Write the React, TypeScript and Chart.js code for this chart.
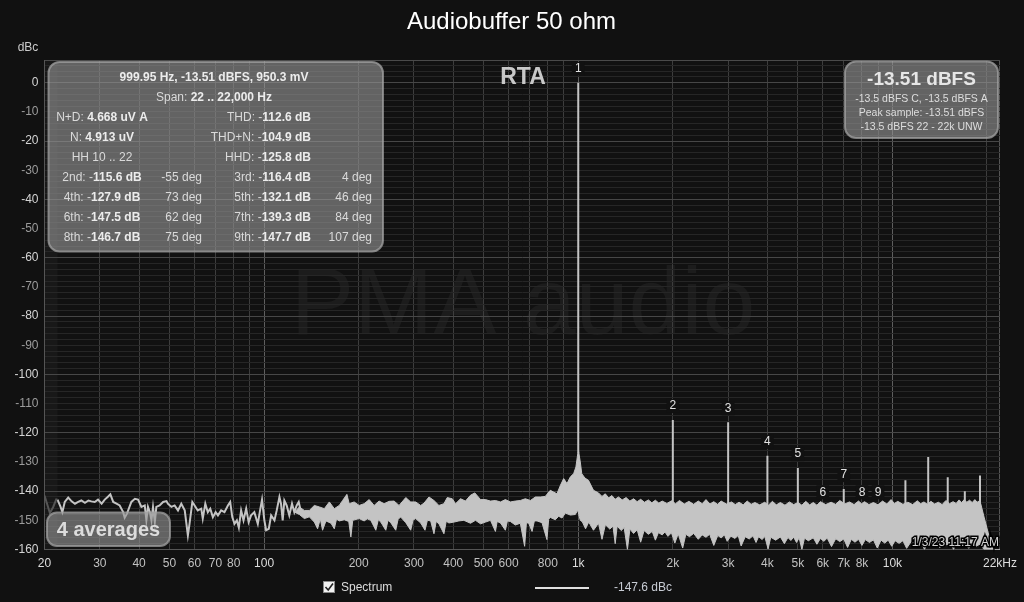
import React, { useEffect, useRef } from 'react';
import { Chart, registerables } from 'chart.js';

Chart.register(...registerables);

const FONT = '"Liberation Sans", Arial, Helvetica, sans-serif';
const TITLE = 'Audiobuffer 50 ohm';
const Y_UNIT = 'dBc';

// ---- axes ----
const X_MIN = 20;
const X_MAX = 22000;
const X_GRID = [20, 30, 40, 50, 60, 70, 80, 90, 100, 200, 300, 400, 500, 600, 700, 800, 900, 1000, 2000, 3000, 4000, 5000, 6000, 7000, 8000, 9000, 10000, 20000, 22000];
const X_LABEL_VALUES = [20, 30, 40, 50, 60, 70, 80, 100, 200, 300, 400, 500, 600, 800, 1000, 2000, 3000, 4000, 5000, 6000, 7000, 8000, 10000, 22000];
const X_LABEL_TEXT = ['20', '30', '40', '50', '60', '70', '80', '100', '200', '300', '400', '500', '600', '800', '1k', '2k', '3k', '4k', '5k', '6k', '7k', '8k', '10k', '22kHz'];
const Y_MIN = -160;
const Y_MAX = 7.7;
const Y_MINOR_STEP = 2;
const Y_LABEL_STEP = 10;
const Y_MAJOR_STEP = 20;

// ---- spectrum (Hz, dBc) ----
const DIM_FREQ = [20, 20.4, 20.8, 21.3, 21.8, 22.0];
const DIM_DB = [-141.5, -144.5, -147.5, -145.5, -142.8, -142.9];

const LOW_FREQ = [22.0, 22.5, 22.8, 23.2, 23.8, 24.4, 25.0, 25.6, 26.2, 26.9, 27.6, 28.2, 28.9, 29.6, 30.4, 31.1, 31.9, 32.4, 33.1, 33.9, 34.7, 35.6, 36.0, 36.6, 37.8, 38.8, 39.7, 40.7, 41.7, 42.2, 42.7, 43.3, 43.8, 44.3, 44.9, 45.4, 46.5, 47.7, 48.9, 49.4, 50.7, 51.9, 53.2, 54.5, 55.9, 57.2, 57.9, 59.1, 60.1, 61.5, 63.1, 63.8, 65.0, 66.2, 67.4, 68.7, 70.1, 71.3, 73.0, 74.8, 76.7, 78.0, 79.2, 80.5, 81.9, 83.1, 84.5, 86.0, 87.7, 89.3, 90.9, 93.1, 95.5, 97.1, 98.5, 100.2, 101.5, 103.5, 105.3, 107.9, 109.7, 111.9, 113.2, 114.6, 116.0, 118.0, 120.3, 122.7, 124.8, 127.0, 128.9, 131.1];
const LOW_DB = [-142.9, -145.4, -147.2, -143.7, -142.2, -143.5, -144.3, -143.7, -143.2, -144.0, -143.2, -143.5, -143.7, -142.9, -144.3, -142.9, -141.8, -141.1, -143.7, -144.3, -144.9, -147.2, -149.1, -147.7, -143.7, -142.6, -142.9, -145.4, -144.9, -150.0, -145.4, -147.2, -150.0, -145.4, -150.6, -145.4, -144.9, -143.7, -143.4, -144.3, -145.4, -144.9, -146.6, -144.3, -146.6, -155.2, -151.2, -143.7, -144.9, -146.6, -146.0, -149.4, -144.3, -147.2, -146.0, -148.9, -147.2, -148.3, -146.6, -147.2, -144.9, -143.7, -148.9, -151.2, -150.0, -152.5, -146.6, -150.0, -146.0, -150.6, -148.3, -147.2, -151.2, -146.6, -142.9, -150.0, -153.4, -152.9, -148.3, -150.0, -146.6, -142.0, -144.3, -150.0, -143.2, -144.9, -148.3, -144.3, -147.2, -144.9, -143.7, -147.2];

const UPPER_FREQ = [125, 129.5, 134.3, 139.3, 144.5, 149.9, 155.5, 161.3, 167.3, 173.5, 177.8, 183.5, 186.6, 193.5, 200.7, 208.2, 216, 224, 232.3, 241, 250, 259.3, 268.9, 282.5, 292.9, 303.8, 315.1, 322.9, 334.9, 347.3, 360.2, 373.6, 382.8, 397.1, 406.9, 422, 437.5, 453.9, 468.6, 488.7, 506.7, 525.5, 545, 565.4, 586.2, 608, 630.6, 654, 678.5, 704, 730.3, 757.4, 785.3, 814.8, 834.4, 855.5, 877.4, 898.7, 920.9, 943.8, 966.7, 983, 997, 1003, 1015, 1026, 1050, 1078, 1118,
  1160, 1190, 1219, 1250, 1280, 1310, 1343, 1380, 1420, 1460, 1500, 1540, 1580, 1625, 1672, 1715, 1760, 1805, 1850, 1915, 1983, 2040, 2100, 2175, 2250, 2330, 2410, 2480, 2550, 2625, 2700, 2775, 2850, 2960, 3075, 3160, 3250, 3350, 3450, 3550, 3650, 3780, 3923, 4030, 4150, 4270, 4400, 4550, 4700, 4850, 5003, 5150, 5300, 5450, 5600, 5750, 5900, 6130, 6380, 6590, 6800, 7050, 7300, 7550, 7800, 7975, 8150, 8420, 8700, 9000, 9300, 9600, 9900, 10150, 10400, 10800, 11200, 11600, 12000, 12300, 12600, 12930, 13260, 13630, 14000, 14400, 14800, 15200, 15600, 15950, 16300, 16600, 16930, 17250, 17600, 17950, 18300, 18600, 18890, 19100, 19580, 20330, 21100, 22000];
const UPPER_DB = [-147.2, -145.4, -146.6, -146.6, -144.9, -145.4, -146.0, -143.7, -146.0, -144.9, -143.2, -141.1, -144.3, -143.7, -144.9, -144.3, -142.9, -144.9, -143.4, -144.3, -143.5, -143.4, -144.9, -142.2, -143.7, -143.7, -144.9, -144.1, -142.0, -143.2, -144.9, -144.3, -142.2, -142.6, -144.3, -142.6, -143.4, -141.4, -140.6, -142.9, -142.9, -143.4, -143.2, -143.7, -142.9, -143.7, -143.4, -143.2, -142.6, -143.2, -142.0, -142.0, -141.8, -139.7, -140.3, -140.9, -138.0, -135.7, -137.4, -135.1, -134.0, -131.7, -127.0, -126.5, -130.0, -134.0, -135.5, -136.3, -139.7,
  -140.6, -141.8, -140.9, -142.3, -141.5, -142.8, -142.0, -143.0, -142.2, -143.4, -142.6, -143.6, -142.8, -143.8, -143.0, -144.0, -143.1, -144.1, -143.4, -144.2, -143.3, -144.3, -143.2, -144.4, -143.5, -144.5, -143.4, -144.3, -142.9, -144.4, -143.6, -144.5, -143.4, -144.4, -143.7, -144.6, -143.8, -144.7, -143.4, -144.5, -143.9, -144.7, -143.8, -144.8, -143.5, -144.7, -143.9, -144.8, -143.7, -144.6, -143.9, -144.8, -143.5, -144.7, -143.9, -144.8, -143.6, -144.6, -143.8, -144.5, -143.2, -144.4, -143.7, -144.6, -143.4, -144.3, -143.6, -144.6, -143.9, -144.7, -143.4, -144.4, -142.9, -144.2, -143.5, -144.5, -143.8, -144.6, -143.3, -144.3, -143.7, -144.5, -143.5, -144.4, -143.8, -144.6, -143.2, -144.3, -143.6, -144.2, -143.0, -143.9, -142.9, -143.8, -143.1, -143.9, -142.9, -143.8, -143.4, -144.3, -148.9, -155.7, -160, -160];

const LOWER_FREQ = [125, 129.5, 134.3, 139.3, 144.5, 148, 151, 153.5, 157.4, 163.3, 167.3, 170, 173.5, 180, 186, 188.9, 191.5, 200.7, 208.2, 213, 218.6, 226.8, 231, 235.2, 244, 248, 253, 262.5, 267, 272.2, 282.5, 292.9, 298, 303.8, 315.1, 325.2, 331, 339, 347.3, 353, 360.2, 373.6, 380, 387.5, 402, 416.9, 432.4, 453.9, 470.9, 488.7, 506.7, 525.5, 545, 552, 565.4, 586.2, 595, 608, 630.6, 654, 675, 684, 695.5, 712.8, 725, 739.2, 766.6, 795, 805, 814.8, 845.3, 866.4, 887.6, 909.9, 943.8, 978.6, 997,
  1003, 1015, 1030, 1055, 1080, 1118, 1160, 1190, 1220, 1260, 1290, 1311, 1330, 1370, 1400, 1434, 1460, 1500, 1540, 1580, 1620, 1672, 1720, 1760, 1800, 1850, 1888, 1930, 1980, 2030, 2080, 2150, 2200, 2260, 2330, 2410, 2480, 2550, 2620, 2700, 2780, 2850, 2920, 2979, 3060, 3150, 3230, 3300, 3400, 3500, 3600, 3680, 3750, 3850, 3923, 4020, 4100, 4250, 4400, 4530, 4650, 4750, 4850, 4950, 5050, 5150, 5250, 5400, 5600, 5750, 5900, 6050, 6200, 6400, 6600, 6800, 7000, 7200, 7400, 7600, 7800, 8000, 8200, 8450, 8700, 8950, 9200, 9450, 9700, 9950, 10200, 10500, 10800, 11100, 11500, 11900, 12300, 12650, 13000, 13400, 13800, 14150, 14500, 14900, 15300, 15650, 16000, 16500, 17000, 17500, 18000, 18500, 19000, 19580, 21100, 22000];
const LOWER_DB = [-147.2, -148.0, -149.4, -148.8, -150.6, -152.9, -149.5, -153.4, -150.2, -151.0, -152.9, -149.6, -150.2, -149.8, -150.4, -155.7, -150.0, -149.4, -150.2, -149.5, -150.0, -153.4, -149.8, -150.6, -153.4, -150.0, -150.8, -153.4, -149.6, -148.9, -150.8, -153.4, -149.9, -149.4, -150.9, -153.4, -150.0, -150.2, -154.6, -150.4, -151.2, -154.6, -150.3, -150.9, -150.6, -150.2, -150.0, -151.0, -150.0, -151.2, -150.6, -150.0, -153.8, -150.4, -150.9, -153.4, -150.2, -150.4, -151.6, -151.0, -158.9, -150.8, -151.0, -153.8, -150.2, -150.2, -150.8, -156.6, -149.6, -149.0, -149.8, -148.6, -149.2, -147.5, -148.2, -148.0, -146.5,
  -148.0, -150.0, -150.5, -152.9, -150.6, -153.4, -151.0, -156.5, -151.5, -153.0, -152.0, -158.0, -152.0, -153.5, -152.5, -160, -153.0, -154.5, -153.2, -157.5, -153.5, -154.8, -153.8, -156.8, -154.2, -155.0, -154.0, -155.5, -154.3, -157.8, -154.6, -159.5, -154.8, -155.6, -154.5, -156.5, -155.0, -155.8, -154.8, -158.6, -155.2, -156.0, -155.0, -157.2, -155.4, -156.2, -155.2, -158.8, -155.6, -156.4, -155.3, -157.6, -155.6, -156.6, -155.5, -159.8, -155.8, -156.8, -155.7, -158.0, -155.9, -156.9, -155.8, -157.6, -156.0, -160, -156.1, -157.0, -156.0, -158.2, -156.2, -157.2, -156.1, -159.0, -156.3, -157.3, -156.4, -159.3, -156.5, -157.5, -156.5, -158.6, -156.6, -157.6, -156.7, -159.5, -156.8, -157.8, -156.8, -158.9, -157.0, -157.9, -157.0, -159.6, -157.1, -158.1, -157.2, -160, -157.3, -158.2, -157.4, -159.4, -157.5, -158.4, -157.6, -160, -157.6, -158.5, -157.8, -159.6, -157.8, -158.8, -158.2, -160, -160, -160];

// ---- spectral lines ----
const FUND_FREQ = 1000;
const FUND_DB = 0;
const FUND_BASE_DB = -127;
const HARM_ORDER = [2, 3, 4, 5, 6, 7, 8, 9];
const HARM_NAME = ['2nd', '3rd', '4th', '5th', '6th', '7th', '8th', '9th'];
const HARM_DB = [-115.6, -116.4, -127.9, -132.1, -147.5, -139.3, -146.7, -147.7];
const HARM_PHASE = [-55, 4, 73, 46, 62, 84, 75, 107];
const EXTRA_FREQ = [11000, 13000, 15000, 17000, 19000];
const EXTRA_DB = [-136.3, -128.3, -135.2, -140.0, -134.6];
const SPIKE_BASE_DB = -146;

// ---- texts ----
const INFO_HEADER = '999.95 Hz, -13.51 dBFS, 950.3 mV';
const INFO_SPAN_LABEL = 'Span: ';
const INFO_SPAN = '22 .. 22,000 Hz';
const INFO_LEFT = [['N+D: ', '4.668 uV A'], ['N: ', '4.913 uV'], ['HH 10 .. 22', '']];
const INFO_RIGHT = [['THD: -', '112.6 dB'], ['THD+N: -', '104.9 dB'], ['HHD: -', '125.8 dB']];
const LEVEL_MAIN = '-13.51 dBFS';
const LEVEL_LINES = ['-13.5 dBFS C, -13.5 dBFS A', 'Peak sample: -13.51 dBFS', '-13.5 dBFS 22 - 22k UNW'];
const AVERAGES = '4 averages';
const MODE = 'RTA';
const WATERMARK = 'PMA audio';
const TIMESTAMP = '1/3/23 11:17 AM';
const LEGEND_SERIES = 'Spectrum';
const LEGEND_VALUE = '-147.6 dBc';

const TRACE = '#c4c4c4';
const BG = '#111111';

const zip = (f: number[], d: number[]) => f.map((x, i) => ({ x, y: d[i] }));

function spikeData() {
  const pts: { x: number; y: number | null }[] = [];
  pts.push({ x: FUND_FREQ, y: FUND_BASE_DB }, { x: FUND_FREQ, y: FUND_DB }, { x: FUND_FREQ, y: null });
  HARM_ORDER.forEach((n, i) => {
    const f = n * FUND_FREQ;
    pts.push({ x: f, y: SPIKE_BASE_DB }, { x: f, y: HARM_DB[i] }, { x: f, y: null });
  });
  EXTRA_FREQ.forEach((f, i) => {
    pts.push({ x: f, y: SPIKE_BASE_DB }, { x: f, y: EXTRA_DB[i] }, { x: f, y: null });
  });
  return pts;
}

function rr(ctx: CanvasRenderingContext2D, x: number, y: number, w: number, h: number, r: number) {
  ctx.beginPath();
  ctx.moveTo(x + r, y);
  ctx.lineTo(x + w - r, y);
  ctx.arcTo(x + w, y, x + w, y + r, r);
  ctx.lineTo(x + w, y + h - r);
  ctx.arcTo(x + w, y + h, x + w - r, y + h, r);
  ctx.lineTo(x + r, y + h);
  ctx.arcTo(x, y + h, x, y + h - r, r);
  ctx.lineTo(x, y + r);
  ctx.arcTo(x, y, x + r, y, r);
  ctx.closePath();
}

function panel(ctx: CanvasRenderingContext2D, x: number, y: number, w: number, h: number, r: number) {
  rr(ctx, x, y, w, h, r);
  ctx.fillStyle = 'rgba(150,150,150,0.62)';
  ctx.fill();
  ctx.lineWidth = 2;
  ctx.strokeStyle = 'rgba(160,160,160,0.75)';
  ctx.stroke();
}

function parts(ctx: CanvasRenderingContext2D, segs: [string, boolean][], x: number, y: number, align: 'left' | 'center' | 'right', size = 12) {
  const widths = segs.map(([t, b]) => {
    ctx.font = `${b ? 'bold ' : ''}${size}px ${FONT}`;
    return ctx.measureText(t).width;
  });
  const total = widths.reduce((a, b) => a + b, 0);
  let cx = align === 'left' ? x : align === 'center' ? x - total / 2 : x - total;
  ctx.textAlign = 'left';
  ctx.textBaseline = 'middle';
  segs.forEach(([t, b], i) => {
    ctx.font = `${b ? 'bold ' : ''}${size}px ${FONT}`;
    ctx.fillStyle = b ? '#ececec' : '#dadada';
    ctx.fillText(t, cx, y);
    cx += widths[i];
  });
}

const overlay = {
  id: 'overlay',
  beforeDraw(chart: any) {
    const { ctx, chartArea: a, scales } = chart;
    ctx.save();
    ctx.fillStyle = BG;
    ctx.fillRect(0, 0, chart.width, chart.height);
    const x0 = scales.x.getPixelForValue(20);
    const x1 = scales.x.getPixelForValue(22);
    ctx.fillStyle = 'rgba(255,255,255,0.03)';
    ctx.fillRect(x0, a.top, x1 - x0, a.bottom - a.top);
    ctx.font = `95px ${FONT}`;
    ctx.fillStyle = '#1c1c1c';
    ctx.textAlign = 'center';
    ctx.textBaseline = 'alphabetic';
    ctx.fillText(WATERMARK, 523, 334);
    ctx.font = `24px ${FONT}`;
    ctx.fillStyle = '#ffffff';
    ctx.textBaseline = 'middle';
    ctx.fillText(TITLE, 511.5, 22.5);
    ctx.restore();
  },
  afterDatasetsDraw(chart: any) {
    const { ctx, scales } = chart;
    const xs = scales.x, ys = scales.y;
    ctx.save();
    ctx.font = `12px ${FONT}`;
    ctx.textAlign = 'center';
    ctx.textBaseline = 'middle';
    const labels = [{ n: 1, db: FUND_DB }, ...HARM_ORDER.map((n, i) => ({ n, db: HARM_DB[i] }))];
    labels.forEach(({ n, db }) => {
      const px = xs.getPixelForValue(n * FUND_FREQ);
      const py = ys.getPixelForValue(Math.max(db, -145.2)) - 14;
      const t = String(n);
      const w = ctx.measureText(t).width + 6;
      ctx.fillStyle = BG;
      ctx.fillRect(px - w / 2, py - 7, w, 14);
      ctx.fillStyle = '#e2e2e2';
      ctx.fillText(t, px, py);
    });
    ctx.restore();
  },
  afterDraw(chart: any) {
    const { ctx } = chart;
    ctx.save();
    ctx.font = `12px ${FONT}`;
    ctx.fillStyle = '#cccccc';
    ctx.textAlign = 'center';
    ctx.textBaseline = 'middle';
    ctx.fillText(Y_UNIT, 28, 48);

    ctx.font = `bold 23px ${FONT}`;
    ctx.fillStyle = '#c8c8c8';
    ctx.textBaseline = 'alphabetic';
    ctx.fillText(MODE, 523, 84);

    panel(ctx, 48.5, 62, 334.5, 189.5, 11);
    parts(ctx, [[INFO_HEADER, true]], 214, 77.5, 'center');
    parts(ctx, [[INFO_SPAN_LABEL, false], [INFO_SPAN, true]], 214, 97.5, 'center');
    INFO_LEFT.forEach(([a, b], i) => {
      parts(ctx, b ? [[a, false], [b, true]] : [[a, false]], 102, 117.5 + i * 20, 'center');
    });
    INFO_RIGHT.forEach(([a, b], i) => {
      parts(ctx, [[a, false], [b, true]], 311, 117.5 + i * 20, 'right');
    });
    for (let k = 0; k < 4; k++) {
      const y = 177.5 + k * 20;
      const l = 2 * k, r = 2 * k + 1;
      parts(ctx, [[`${HARM_NAME[l]}: -`, false], [`${Math.abs(HARM_DB[l]).toFixed(1)} dB`, true]], 102, y, 'center');
      parts(ctx, [[`${HARM_PHASE[l]} deg`, false]], 202, y, 'right');
      parts(ctx, [[`${HARM_NAME[r]}: -`, false], [`${Math.abs(HARM_DB[r]).toFixed(1)} dB`, true]], 311, y, 'right');
      parts(ctx, [[`${HARM_PHASE[r]} deg`, false]], 372, y, 'right');
    }

    panel(ctx, 845, 61.5, 153, 76.5, 11);
    ctx.textAlign = 'center';
    ctx.textBaseline = 'middle';
    ctx.font = `bold 19px ${FONT}`;
    ctx.fillStyle = '#e6e6e6';
    ctx.fillText(LEVEL_MAIN, 921.5, 80);
    ctx.font = `10.5px ${FONT}`;
    ctx.fillStyle = '#dddddd';
    LEVEL_LINES.forEach((t, i) => ctx.fillText(t, 921.5, 99.5 + i * 14));

    panel(ctx, 47, 512.5, 123, 33.5, 10);
    ctx.font = `bold 20px ${FONT}`;
    ctx.fillStyle = '#dcdcdc';
    ctx.fillText(AVERAGES, 108.5, 530);

    ctx.font = `12px ${FONT}`;
    ctx.textAlign = 'right';
    ctx.lineWidth = 3;
    ctx.strokeStyle = '#000000';
    ctx.strokeText(TIMESTAMP, 999, 542.5);
    ctx.fillStyle = '#d0d0d0';
    ctx.fillText(TIMESTAMP, 999, 542.5);

    ctx.fillStyle = '#f2f2f2';
    ctx.fillRect(323, 581, 12, 12);
    ctx.strokeStyle = '#8a8a8a';
    ctx.lineWidth = 1;
    ctx.strokeRect(323.5, 581.5, 11, 11);
    ctx.strokeStyle = '#222222';
    ctx.lineWidth = 1.6;
    ctx.beginPath();
    ctx.moveTo(325.5, 587);
    ctx.lineTo(328.2, 590);
    ctx.lineTo(333, 583.5);
    ctx.stroke();
    ctx.textAlign = 'left';
    ctx.font = `12px ${FONT}`;
    ctx.fillStyle = '#dddddd';
    ctx.fillText(LEGEND_SERIES, 341, 587.5);
    ctx.strokeStyle = '#e0e0e0';
    ctx.lineWidth = 2;
    ctx.beginPath();
    ctx.moveTo(535, 588);
    ctx.lineTo(589, 588);
    ctx.stroke();
    ctx.fillStyle = '#c8ccd4';
    ctx.fillText(LEGEND_VALUE, 614, 587.5);
    ctx.restore();
  },
};

const xLabelMap: Record<number, string> = {};
X_LABEL_VALUES.forEach((v, i) => (xLabelMap[v] = X_LABEL_TEXT[i]));

function yGrid() {
  const t: number[] = [];
  for (let v = Y_MIN; v < Y_MAX - 0.5; v += Y_MINOR_STEP) t.push(v);
  t.push(Y_MAX);
  return t;
}

export default function App() {
  const ref = useRef<HTMLCanvasElement>(null);
  useEffect(() => {
    document.body.style.margin = '0';
    document.body.style.background = BG;
    const chart = new Chart(ref.current as HTMLCanvasElement, {
      type: 'line',
      data: {
        datasets: [
          { label: 'dim', data: zip(DIM_FREQ, DIM_DB), borderColor: '#555555', borderWidth: 2, pointRadius: 0, fill: false },
          { label: 'low', data: zip(LOW_FREQ, LOW_DB), borderColor: TRACE, borderWidth: 2, pointRadius: 0, fill: false },
          { label: 'upper', data: zip(UPPER_FREQ, UPPER_DB), borderColor: TRACE, backgroundColor: TRACE, borderWidth: 1, pointRadius: 0, fill: '+1' },
          { label: 'lower', data: zip(LOWER_FREQ, LOWER_DB), borderColor: TRACE, borderWidth: 1, pointRadius: 0, fill: false },
          { label: 'lines', data: spikeData(), borderColor: TRACE, borderWidth: 2, pointRadius: 0, fill: false, spanGaps: false },
        ] as any,
      },
      options: {
        animation: false,
        responsive: false,
        events: [],
        layout: { padding: { left: 0, right: 21.5, top: 60.3, bottom: 0 } },
        plugins: {
          legend: { display: false },
          tooltip: { enabled: false },
          title: { display: false },
        },
        scales: {
          x: {
            type: 'logarithmic',
            min: X_MIN,
            max: X_MAX,
            afterBuildTicks: (s: any) => { s.ticks = X_GRID.map((v) => ({ value: v })); },
            afterFit: (s: any) => { s.height = 52.5; },
            grid: {
              drawTicks: false,
              color: (c: any) => {
                const v = c.tick ? c.tick.value : 0;
                if (v === 100 || v === 1000 || v === 10000) return '#5e5e5e';
                if (v === 22000) return '#555555';
                return '#3d3d3d';
              },
            },
            border: { color: '#555555' },
            ticks: {
              autoSkip: false,
              maxRotation: 0,
              minRotation: 0,
              padding: 7,
              font: { size: 12, family: FONT },
              color: (c: any) => {
                const v = c.tick ? c.tick.value : 0;
                return v === 20 || v === 100 || v === 1000 || v === 10000 || v === 22000 ? '#dedede' : '#c2c2c2';
              },
              callback: (v: any) => xLabelMap[v as number] ?? '',
            },
          },
          y: {
            type: 'linear',
            min: Y_MIN,
            max: Y_MAX,
            afterBuildTicks: (s: any) => { s.ticks = yGrid().map((v) => ({ value: v })); },
            afterFit: (s: any) => { s.width = 44.5; },
            grid: {
              drawTicks: false,
              color: (c: any) => {
                const v = c.tick ? c.tick.value : 0;
                if (v === Y_MAX) return '#4a4a4a';
                return v % Y_MAJOR_STEP === 0 ? '#474747' : '#262626';
              },
            },
            border: { color: '#555555' },
            ticks: {
              autoSkip: false,
              padding: 6,
              font: { size: 12, family: FONT },
              color: (c: any) => {
                const v = c.tick ? c.tick.value : 0;
                return v % Y_MAJOR_STEP === 0 ? '#d4d4d4' : '#9c9c9c';
              },
              callback: (v: any) => (Number.isInteger(v) && v % Y_LABEL_STEP === 0 ? String(v) : ''),
            },
          },
        },
      } as any,
      plugins: [overlay],
    });
    return () => chart.destroy();
  }, []);
  return (
    <div style={{ width: 1024, height: 602, background: BG }}>
      <canvas ref={ref} width={1024} height={602} style={{ display: 'block', width: 1024, height: 602 }} />
    </div>
  );
}
